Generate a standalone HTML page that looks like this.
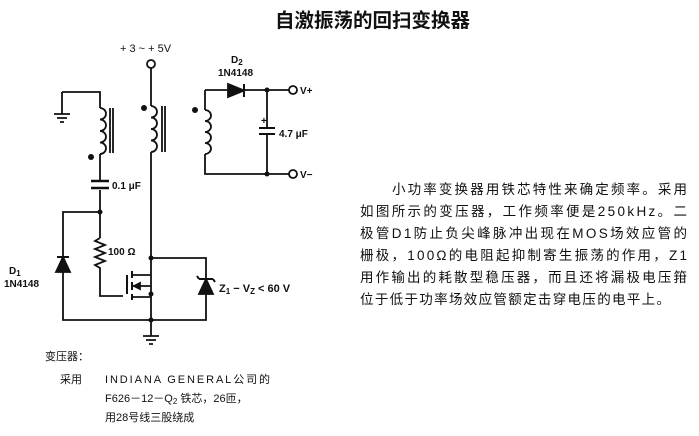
<!DOCTYPE html>
<html><head><meta charset="utf-8"><style>
body{margin:0;background:#fff;}
svg{display:block}
text{font-family:"Liberation Sans","Noto Sans CJK SC",sans-serif;fill:#111}
</style></head><body>
<svg width="699" height="436" viewBox="0 0 699 436" xmlns="http://www.w3.org/2000/svg">
<text x="275" y="27" font-size="19.5" font-weight="bold" font-family="'Noto Sans CJK SC',sans-serif">自激振荡的回扫变换器</text>
<g stroke="#111" stroke-width="1.8" fill="none">
<circle cx="151" cy="64" r="4"/>
<path d="M151 68V106 M151 152V320"/>
<path d="M151 106a6 5.75 0 0 1 0 11.5a6 5.75 0 0 1 0 11.5a6 5.75 0 0 1 0 11.5a6 5.75 0 0 1 0 11.5"/>
<path d="M162 106V152 M165 106V152"/>
<path d="M62 92H100V108 M100 154V180 M100 190V212 M62 92V114 M54 114H70 M57 118H67 M60 122H64"/>
<path d="M100 108a6 5.75 0 0 1 0 11.5a6 5.75 0 0 1 0 11.5a6 5.75 0 0 1 0 11.5a6 5.75 0 0 1 0 11.5"/>
<path d="M110 108V153 M113 108V153"/>
<path d="M91 181H109 M91 188H109" stroke-width="2.4"/>
<path d="M100 212H63V320H206V258H151 M100 212V238 M100 238l-5 3l10 4l-10 4l10 4l-10 4l10 4l-10 4l5 3V296H123"/>
<path d="M57 257H69" stroke-width="2"/>
<path d="M63 257L56 272H70Z" fill="#111"/>
<path d="M127 275V294" stroke-width="2"/>
<path d="M132 271V278 M132 282V290 M132 294V300" stroke-width="2"/>
<path d="M132 275H151 M132 297H151 M132 286H151"/>
<path d="M134 286l6-3v6z" fill="#111"/>
<path d="M199 279H213 M199 279l-2 -3 M213 279l2 3" stroke-width="2"/>
<path d="M206 279L199 294H213Z" fill="#111"/>
<path d="M151 320V336 M143 336H159 M146 340H156 M149 344H153"/>
<path d="M205 90V110 M205 154V174H267 M205 90H228 M244 90H289 M267 90V128 M267 134V174H289"/>
<path d="M205 110a6 5.5 0 0 1 0 11a6 5.5 0 0 1 0 11a6 5.5 0 0 1 0 11a6 5.5 0 0 1 0 11"/>
<path d="M244 84V97" stroke-width="2"/>
<path d="M228 84L244 90.5L228 97Z" fill="#111"/>
<path d="M259 128H275 M259 134H275" stroke-width="2"/>
<circle cx="293" cy="90" r="4"/><circle cx="293" cy="174" r="4"/>
</g>
<g fill="#111">
<circle cx="144" cy="108" r="3"/><circle cx="91" cy="157" r="3"/><circle cx="195" cy="110" r="3"/>
<circle cx="100" cy="212" r="2.5"/><circle cx="151" cy="258" r="2.5"/><circle cx="151" cy="320" r="2.5"/>
<circle cx="151" cy="294" r="2.5"/><circle cx="267" cy="90" r="2.5"/><circle cx="267" cy="174" r="2.5"/>
</g>
<g font-size="10" font-weight="bold">
<text x="120" y="52" font-weight="normal" font-size="11">+ 3 ~ + 5V</text>
<text x="231" y="63">D<tspan font-size="8" dy="2">2</tspan></text>
<text x="218" y="76">1N4148</text>
<text x="300" y="94">V+</text>
<text x="300" y="178">V−</text>
<text x="261" y="124">+</text>
<text x="279" y="137">4.7 μF</text>
<text x="112" y="189">0.1 μF</text>
<text x="108" y="255">100 Ω</text>
<text x="9" y="274">D<tspan font-size="8" dy="2">1</tspan></text>
<text x="4" y="287">1N4148</text>
<text x="219" y="292" font-size="11">Z<tspan font-size="8" dy="2">1</tspan><tspan dy="-2"> − V</tspan><tspan font-size="8" dy="2">Z</tspan><tspan dy="-2"> &lt; 60 V</tspan></text>
</g>
<g font-size="11">
<text x="45" y="360">变压器：</text>
<text x="60" y="383">采用</text>
<text x="105" y="383" textLength="165">INDIANA  GENERAL公司的</text>
<text x="105" y="402">F626－12－Q<tspan font-size="8" dy="2">2</tspan><tspan dy="-2"> 铁芯，26匝，</tspan></text>
<text x="105" y="421">用28号线三股绕成</text>
</g>
<g font-size="13.5">
<text x="392" y="194" textLength="295">小功率变换器用铁芯特性来确定频率。采用</text>
<text x="360" y="216" textLength="327">如图所示的变压器，工作频率便是250kHz。二</text>
<text x="360" y="238" textLength="327">极管D1防止负尖峰脉冲出现在MOS场效应管的</text>
<text x="360" y="260" textLength="327">栅极，100Ω的电阻起抑制寄生振荡的作用，Z1</text>
<text x="360" y="282" textLength="327">用作输出的耗散型稳压器，而且还将漏极电压箝</text>
<text x="360" y="304" textLength="310">位于低于功率场效应管额定击穿电压的电平上。</text>
</g>
</svg>
</body></html>
